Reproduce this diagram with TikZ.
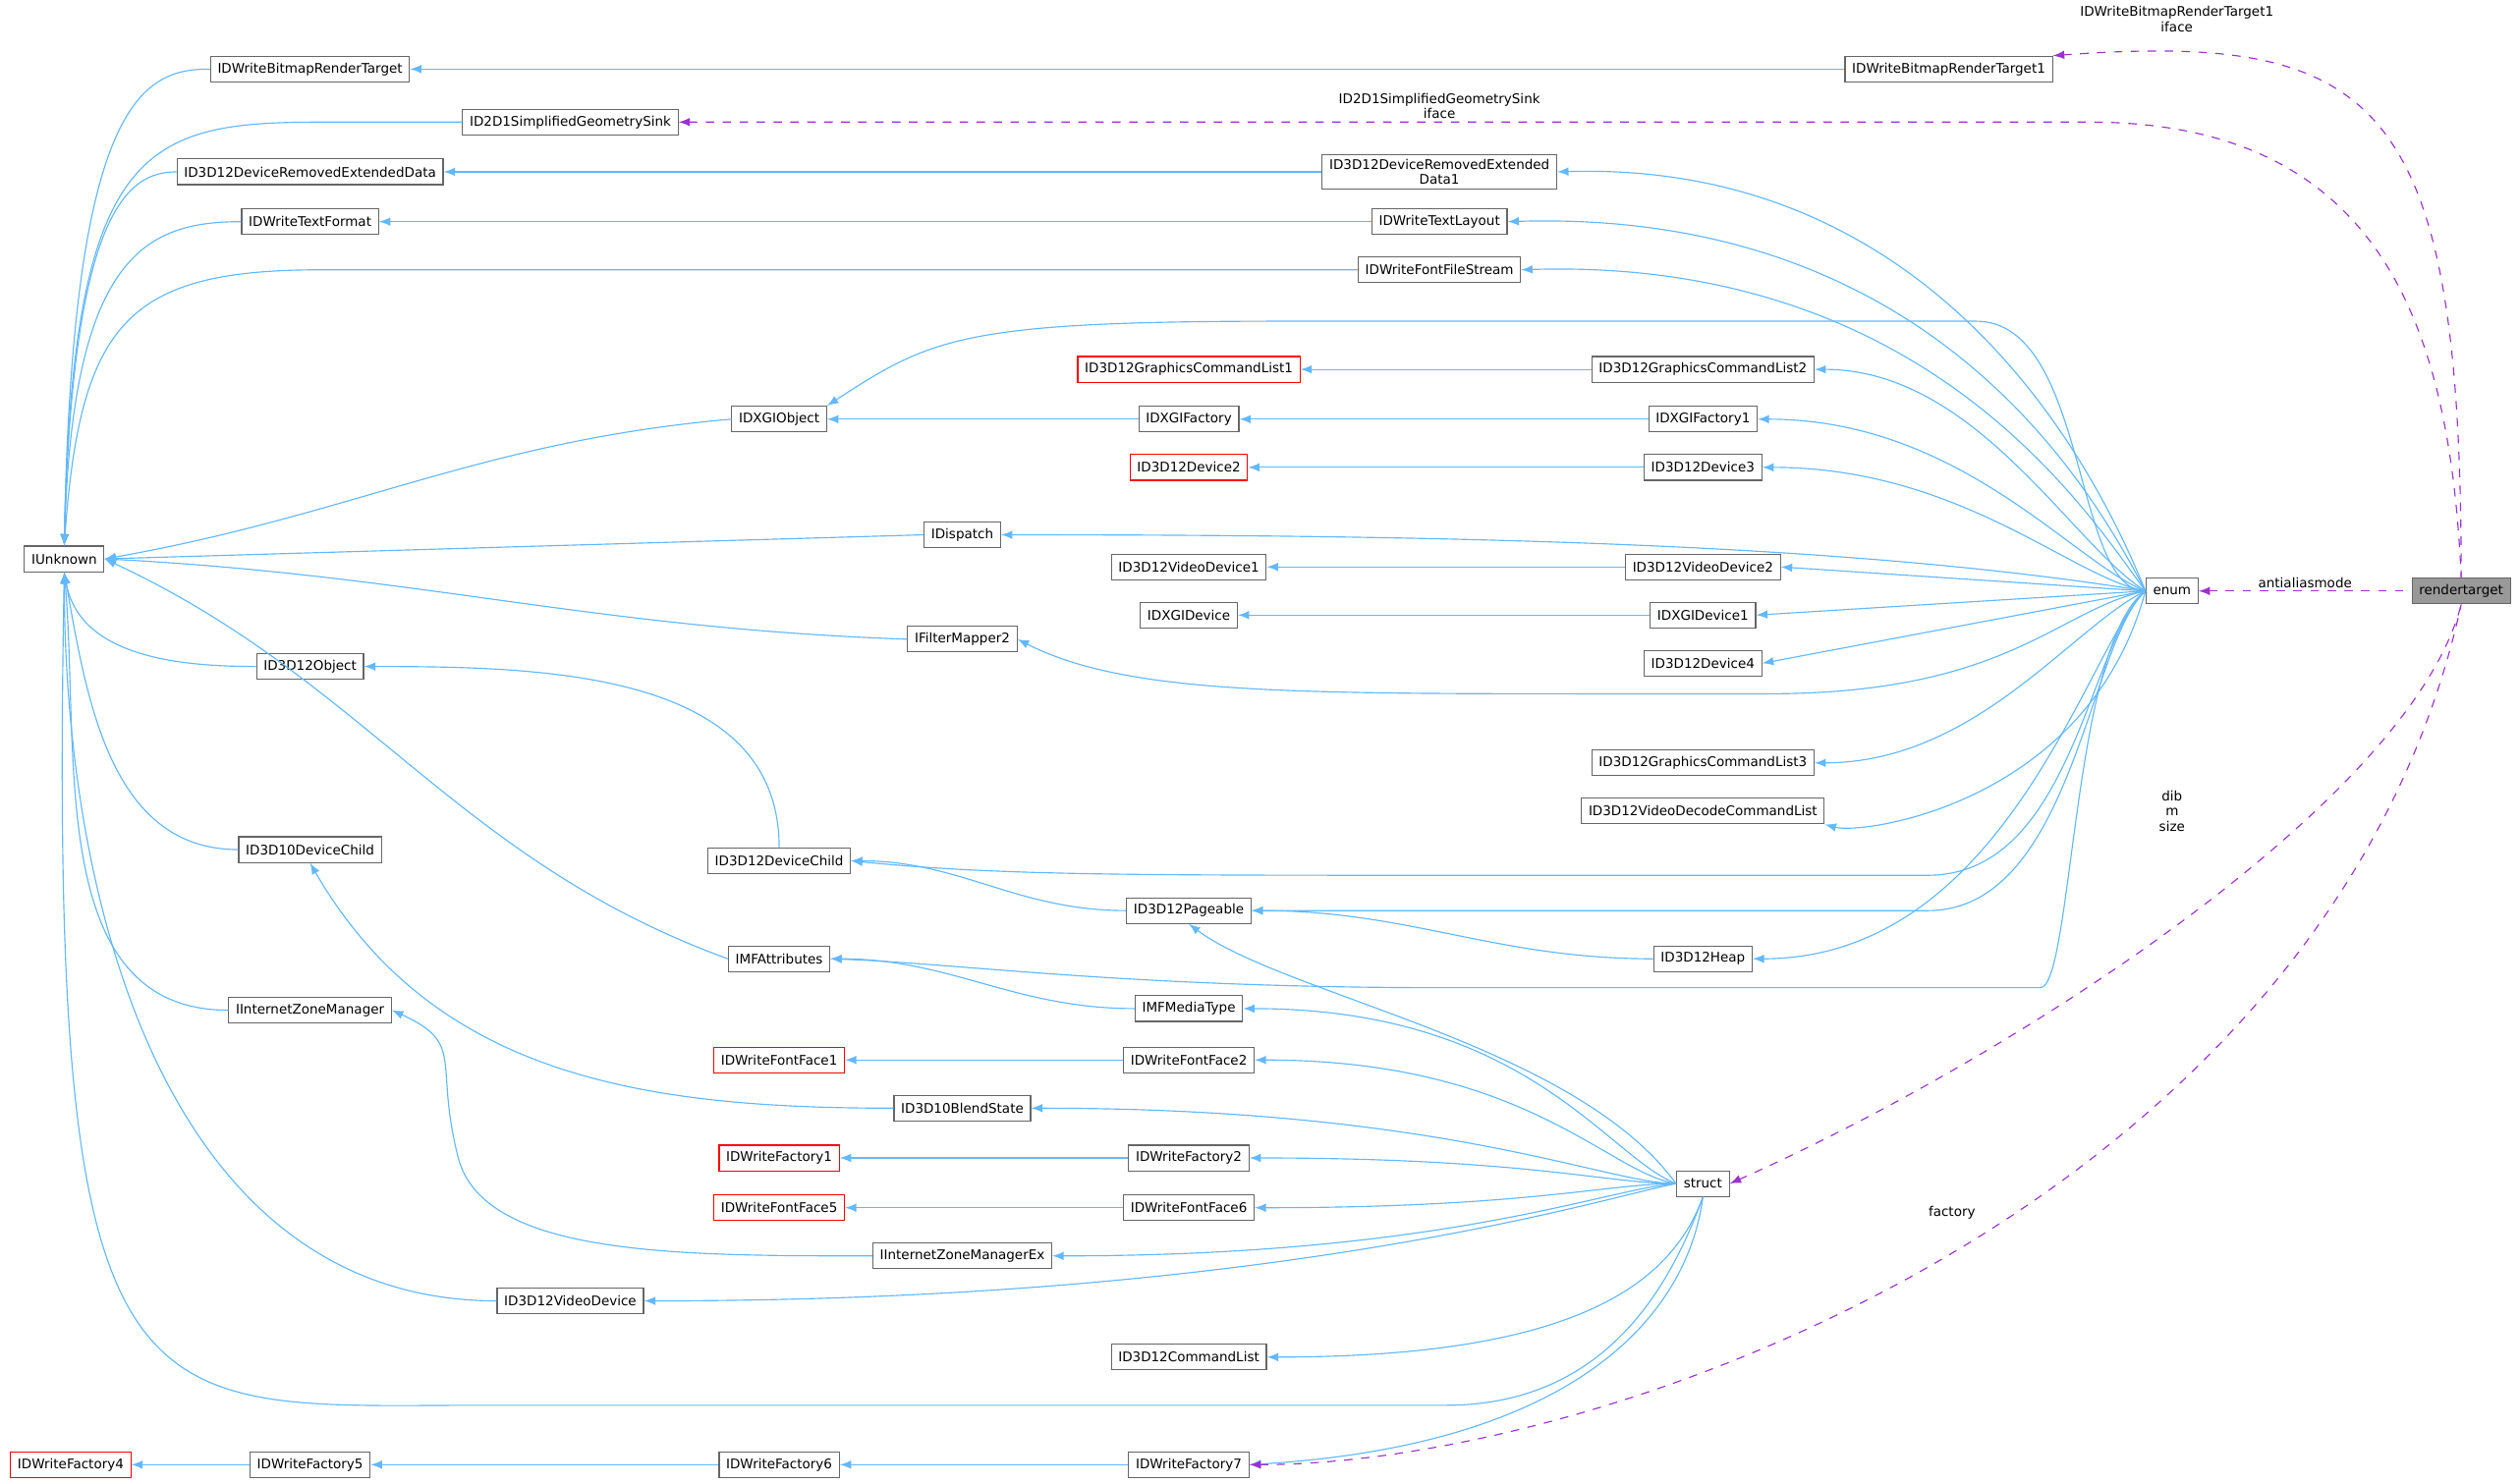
\documentclass[tikz,border=0pt]{standalone}
\usepackage{fontspec}
\setmainfont{DejaVu Sans}
\definecolor{edgeblue}{HTML}{63B8FF}
\definecolor{edgepurple}{HTML}{9A32CD}
\tikzset{
  cls/.style={draw=black!60, fill=white, inner xsep=2.5pt, inner ysep=1.6pt, minimum height=0.32cm, align=center, font=\fontsize{4.7}{5.4}\selectfont},
  redcls/.style={cls, draw=red},
  inh/.style={<-, edgeblue, thin},
  use/.style={<-, edgepurple, thin, dashed},
  lbl/.style={font=\fontsize{4.7}{5.4}\selectfont, align=center, inner sep=1pt}
}
\begin{document}
\begin{tikzpicture}[x=0.02cm, y=-0.02cm, >=latex]
	\useasboundingbox (0,0) rectangle (1568,924);

	% Classes on the left
	\node[cls] (IUnknown) at (40,348) {IUnknown};
	\node[cls] (BitmapRT) at (193,43) {IDWriteBitmapRenderTarget};
	\node[cls] (DRED) at (193,107) {ID3D12DeviceRemovedExtendedData};
	\node[cls] (TextFormat) at (193,138) {IDWriteTextFormat};
	\node[cls] (D3D12Object) at (193,415) {ID3D12Object};
	\node[cls] (D3D10Child) at (193,529) {ID3D10DeviceChild};
	\node[cls] (ZoneMgr) at (193,629) {IInternetZoneManager};
	\node[redcls] (Factory4) at (44,912) {IDWriteFactory4};
	\node[cls] (Factory5) at (193,912) {IDWriteFactory5};
	\node[cls] (GeomSink) at (355,76) {ID2D1SimplifiedGeometrySink};
	\node[cls] (VideoDevice) at (355,810) {ID3D12VideoDevice};

	% Middle columns
	\node[cls] (DXGIObject) at (485,261) {IDXGIObject};
	\node[cls] (DeviceChild) at (485,536) {ID3D12DeviceChild};
	\node[cls] (MFAttributes) at (485,597) {IMFAttributes};
	\node[redcls] (FontFace1) at (485,660) {IDWriteFontFace1};
	\node[redcls] (Factory1) at (485,721) {IDWriteFactory1};
	\node[redcls] (FontFace5) at (485,752) {IDWriteFontFace5};
	\node[cls] (Factory6) at (485,912) {IDWriteFactory6};
	\node[cls] (Dispatch) at (599,333) {IDispatch};
	\node[cls] (FilterMapper) at (599,398) {IFilterMapper2};
	\node[cls] (BlendState) at (599,690) {ID3D10BlendState};
	\node[cls] (ZoneMgrEx) at (599,782) {IInternetZoneManagerEx};
	\node[redcls] (GCL1) at (740,230) {ID3D12GraphicsCommandList1};
	\node[cls] (DXGIFactory) at (740,261) {IDXGIFactory};
	\node[redcls] (Device2) at (740,291) {ID3D12Device2};
	\node[cls] (VideoDevice1) at (740,353) {ID3D12VideoDevice1};
	\node[cls] (DXGIDevice) at (740,383) {IDXGIDevice};
	\node[cls] (Pageable) at (740,567) {ID3D12Pageable};
	\node[cls] (MediaType) at (740,628) {IMFMediaType};
	\node[cls] (FontFace2) at (740,660) {IDWriteFontFace2};
	\node[cls] (Factory2) at (740,721) {IDWriteFactory2};
	\node[cls] (FontFace6) at (740,752) {IDWriteFontFace6};
	\node[cls] (CommandList) at (740,845) {ID3D12CommandList};
	\node[cls] (Factory7) at (740,912) {IDWriteFactory7};
	\node[cls] (DRED1) at (896,107) {ID3D12DeviceRemovedExtended\\Data1};
	\node[cls] (TextLayout) at (896,138) {IDWriteTextLayout};
	\node[cls] (FontStream) at (896,168) {IDWriteFontFileStream};

	% Right columns
	\node[cls] (BitmapRT1) at (1213,43) {IDWriteBitmapRenderTarget1};
	\node[cls] (GCL2) at (1060,230) {ID3D12GraphicsCommandList2};
	\node[cls] (DXGIFactory1) at (1060,261) {IDXGIFactory1};
	\node[cls] (Device3) at (1060,291) {ID3D12Device3};
	\node[cls] (VideoDevice2) at (1060,353) {ID3D12VideoDevice2};
	\node[cls] (DXGIDevice1) at (1060,383) {IDXGIDevice1};
	\node[cls] (Device4) at (1060,413) {ID3D12Device4};
	\node[cls] (GCL3) at (1060,475) {ID3D12GraphicsCommandList3};
	\node[cls] (DecodeCL) at (1060,505) {ID3D12VideoDecodeCommandList};
	\node[cls] (Heap) at (1060,597) {ID3D12Heap};
	\node[cls] (struct) at (1060,737) {struct};
	\node[cls] (enum) at (1352,368) {enum};
	\node[cls, fill=black!40] (rendertarget) at (1532,368) {rendertarget};

	% Inheritance towards IUnknown
	\draw[inh] (IUnknown.north) .. controls (45,60) and (90,43) .. (BitmapRT.west);
	\draw[inh] (IUnknown.north) .. controls (45,90) and (90,76) .. (200,76) -- (GeomSink.west);
	\draw[inh] (IUnknown.north) .. controls (45,130) and (80,107) .. (DRED.west);
	\draw[inh] (IUnknown.north) .. controls (45,160) and (90,138) .. (TextFormat.west);
	\draw[inh] (IUnknown.north) .. controls (50,200) and (80,168) .. (200,168) -- (FontStream.west);
	\draw[inh] (IUnknown.east) to[out=10,in=185] (DXGIObject.west);
	\draw[inh] (IUnknown.east) -- (Dispatch.west);
	\draw[inh] (IUnknown.east) to[out=-3,in=178] (FilterMapper.west);
	\draw[inh] (IUnknown.east) to[out=-25,in=160] (MFAttributes.west);
	\draw[inh] (IUnknown.south) to[out=-80,in=180] (D3D12Object.west);
	\draw[inh] (IUnknown.south) to[out=-80,in=180] (D3D10Child.west);
	\draw[inh] (IUnknown.south) to[out=-85,in=180] (ZoneMgr.west);
	\draw[inh] (IUnknown.south) to[out=-90,in=180] (VideoDevice.west);
	\draw[inh] (IUnknown.south) .. controls (30,900) and (80,875) .. (300,875) -- (900,875) .. controls (1000,875) and (1040,800) .. (struct.south);

	% Other inheritance
	\draw[inh] (BitmapRT.east) -- (BitmapRT1.west);
	\draw[inh] (DRED.east) -- (DRED1.west);
	\draw[inh] (TextFormat.east) -- (TextLayout.west);
	\draw[inh] (GCL1.east) -- (GCL2.west);
	\draw[inh] (DXGIObject.east) -- (DXGIFactory.west);
	\draw[inh] (DXGIFactory.east) -- (DXGIFactory1.west);
	\draw[inh] (Device2.east) -- (Device3.west);
	\draw[inh] (VideoDevice1.east) -- (VideoDevice2.west);
	\draw[inh] (DXGIDevice.east) -- (DXGIDevice1.west);
	\draw[inh] (D3D12Object.east) to[out=0,in=90] (DeviceChild.north);
	\draw[inh] (DeviceChild.east) to[out=0,in=180] (Pageable.west);
	\draw[inh] (Pageable.east) to[out=0,in=180] (Heap.west);
	\draw[inh] (MFAttributes.east) to[out=0,in=180] (MediaType.west);
	\draw[inh] (FontFace1.east) -- (FontFace2.west);
	\draw[inh] (D3D10Child.south) to[out=-60,in=180] (BlendState.west);
	\draw[inh] (Factory1.east) -- (Factory2.west);
	\draw[inh] (FontFace5.east) -- (FontFace6.west);
	\draw[inh] (ZoneMgr.east) .. controls (290,650) and (270,660) .. (285,720) .. controls (300,782) and (420,782) .. (ZoneMgrEx.west);
	\draw[inh] (Factory4.east) -- (Factory5.west);
	\draw[inh] (Factory5.east) -- (Factory6.west);
	\draw[inh] (Factory6.east) -- (Factory7.west);

	% Bases of enum
	\draw[inh] (DRED1.east) .. controls (1200,100) and (1300,280) .. (enum.west);
	\draw[inh] (TextLayout.east) .. controls (1200,130) and (1300,300) .. (enum.west);
	\draw[inh] (FontStream.east) .. controls (1200,160) and (1300,320) .. (enum.west);
	\draw[inh] (DXGIObject.north east) .. controls (580,210) and (600,200) .. (800,200) -- (1230,200) .. controls (1300,200) and (1290,368) .. (enum.west);
	\draw[inh] (GCL2.east) .. controls (1230,230) and (1290,340) .. (enum.west);
	\draw[inh] (DXGIFactory1.east) .. controls (1220,261) and (1290,350) .. (enum.west);
	\draw[inh] (Device3.east) .. controls (1220,291) and (1290,360) .. (enum.west);
	\draw[inh] (Dispatch.east) .. controls (900,333) and (1150,338) .. (enum.west);
	\draw[inh] (VideoDevice2.east) -- (enum.west);
	\draw[inh] (DXGIDevice1.east) -- (enum.west);
	\draw[inh] (FilterMapper.east) .. controls (700,432) and (800,432) .. (1000,432) -- (1100,432) .. controls (1250,432) and (1280,380) .. (enum.west);
	\draw[inh] (Device4.east) -- (enum.west);
	\draw[inh] (GCL3.east) .. controls (1230,475) and (1290,390) .. (enum.west);
	\draw[inh] (DecodeCL.south east) .. controls (1160,520) and (1300,500) .. (enum.west);
	\draw[inh] (DeviceChild.east) .. controls (620,545) and (700,545) .. (900,545) -- (1200,545) .. controls (1290,545) and (1300,400) .. (enum.west);
	\draw[inh] (Pageable.east) .. controls (800,567) and (900,567) .. (1000,567) -- (1200,567) .. controls (1290,567) and (1300,400) .. (enum.west);
	\draw[inh] (Heap.east) .. controls (1250,597) and (1300,400) .. (enum.west);
	\draw[inh] (MFAttributes.east) .. controls (600,600) and (700,615) .. (900,615) -- (1270,615) .. controls (1290,615) and (1290,400) .. (enum.west);

	% Bases of struct
	\draw[inh] (Pageable.south) .. controls (800,620) and (980,650) .. (struct.west);
	\draw[inh] (MediaType.east) .. controls (950,628) and (1000,720) .. (struct.west);
	\draw[inh] (FontFace2.east) .. controls (950,660) and (1000,730) .. (struct.west);
	\draw[inh] (BlendState.east) .. controls (900,690) and (1000,737) .. (struct.west);
	\draw[inh] (Factory2.east) .. controls (950,721) and (1000,737) .. (struct.west);
	\draw[inh] (FontFace6.east) .. controls (950,752) and (1000,737) .. (struct.west);
	\draw[inh] (ZoneMgrEx.east) .. controls (900,782) and (1000,740) .. (struct.west);
	\draw[inh] (VideoDevice.east) .. controls (800,810) and (1000,745) .. (struct.west);
	\draw[inh] (CommandList.east) .. controls (980,845) and (1040,800) .. (struct.south);
	\draw[inh] (Factory7.east) .. controls (980,900) and (1050,820) .. (struct.south);

	% Usage by rendertarget
	\draw[use] (BitmapRT1.north east) .. controls (1480,20) and (1532,60) .. (rendertarget.north);
	\draw[use] (GeomSink.east) -- (1300,76) .. controls (1480,76) and (1525,200) .. (rendertarget.north);
	\draw[use] (enum.east) -- node[lbl, above, text=black] {antialiasmode} (rendertarget.west);
	\draw[use] (struct.east) .. controls (1250,660) and (1500,500) .. (rendertarget.south);
	\draw[use] (Factory7.east) .. controls (1000,912) and (1450,750) .. (rendertarget.south);

	% Usage labels
	\node[lbl] (lblBitmap) at (1355,12) {IDWriteBitmapRenderTarget1\\iface};
	\node[lbl] (lblSink) at (896,66) {ID2D1SimplifiedGeometrySink\\iface};
	\node[lbl] (lblStruct) at (1352,505) {dib\\m\\size};
	\node[lbl] (lblFactory) at (1215,755) {factory};
\end{tikzpicture}
\end{document}
